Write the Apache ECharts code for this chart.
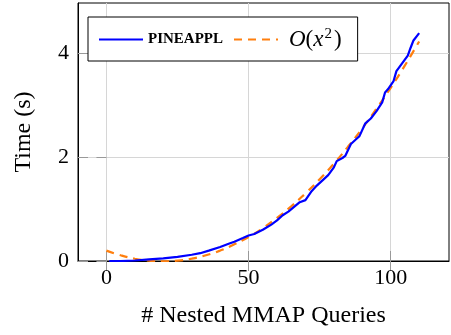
<!DOCTYPE html>
<html>
<head>
<meta charset="utf-8">
<script src="https://cdn.jsdelivr.net/npm/echarts@6/dist/echarts.min.js"></script>
<style>
  html, body { margin: 0; padding: 0; background: #fff; }
  #chart { width: 451px; height: 335px; }
</style>
</head>
<body>
<div id="chart"></div>
<script>
// measured run time of PINEAPPL per number of nested MMAP queries
const queryCounts = [1, 5, 10, 15, 20, 25, 30, 33, 36, 40, 43, 45, 48, 50, 52, 55, 58, 60, 62, 64, 66, 68, 70, 72, 74, 76, 78, 80, 81, 83, 84, 86, 88, 89, 91, 93, 95, 97, 98, 99, 101, 102, 104, 106, 107, 108, 110];
const pineapplTimes = [0.00, 0.00, 0.01, 0.03, 0.05, 0.08, 0.12, 0.15, 0.20, 0.27, 0.33, 0.37, 0.44, 0.49, 0.52, 0.60, 0.70, 0.78, 0.88, 0.95, 1.04, 1.13, 1.17, 1.33, 1.45, 1.55, 1.65, 1.80, 1.92, 1.98, 2.02, 2.25, 2.35, 2.40, 2.64, 2.74, 2.88, 3.05, 3.24, 3.30, 3.46, 3.65, 3.80, 3.95, 4.10, 4.24, 4.38];

// quadratic fit
const fitX = [0, 5, 10, 15, 20, 25, 30, 35, 40, 45, 50, 55, 60, 65, 70, 75, 80, 85, 90, 95, 100, 105, 110];
const fitY = [0.20, 0.11, 0.044, 0.005, -0.008, 0.006, 0.045, 0.11, 0.20, 0.32, 0.46, 0.63, 0.83, 1.05, 1.30, 1.57, 1.87, 2.20, 2.55, 2.93, 3.33, 3.76, 4.22];

const xTicks = [0, 50, 100];
const yTicks = [0, 2, 4];

const serif = "Liberation Serif";

const zip = (xs, ys) => xs.map((x, i) => [x, ys[i]]);

const chart = echarts.init(document.getElementById("chart"));

// limits of the plot box
const xMin = -10;
const xMax = 120.5;
const yMax = 4.96;

const option = {
  animation: false,
  textStyle: { fontFamily: serif, color: "#000" },
  grid: {
    left: 78,
    right: 2,
    top: 3,
    bottom: 74,
    outerBoundsMode: "none",
    show: true,
    borderColor: "#000",
    borderWidth: 1,
  },
  legend: {
    left: 88,
    top: 17,
    orient: "horizontal",
    padding: [10, 16, 10, 10],
    itemGap: 10,
    itemWidth: 44,
    itemHeight: 22,
    borderColor: "#000",
    borderWidth: 1,
    backgroundColor: "#fff",
    itemStyle: { opacity: 0 },
    data: ["PINEAPPL", "O(x2)"],
    formatter: (name) => {
      if (name === "PINEAPPL") return "{sc|PINEAPPL}";
      return "{lead|O}{n|(}{it|x}{sup|2}{n|)}";
    },
    textStyle: {
      fontFamily: serif,
      color: "#000",
      rich: {
        sc: { fontSize: 15, fontFamily: serif, fontWeight: "bold" },
        lead: { fontSize: 23, fontStyle: "italic", fontFamily: serif, padding: [0, 0, 0, 6] },
        it: { fontSize: 23, fontStyle: "italic", fontFamily: serif },
        n: { fontSize: 23, fontFamily: serif },
        sup: { fontSize: 15, fontFamily: serif, verticalAlign: "top", padding: [0, 2, 10, 1] },
      },
    },
  },
  xAxis: [
    {
      type: "value",
      min: xMin,
      max: xMax,
      name: "# Nested MMAP Queries",
      nameLocation: "middle",
      nameGap: 43,
      nameTextStyle: { fontSize: 24, fontFamily: serif, color: "#000" },
      axisLine: { show: true, onZero: false, lineStyle: { color: "#000", width: 1 } },
      axisTick: { show: true, inside: true, length: 10, customValues: xTicks, lineStyle: { color: "#999" } },
      axisLabel: { customValues: xTicks, fontSize: 22, color: "#000", margin: 6 },
      splitLine: { show: true, lineStyle: { color: "#d6d6d6", width: 1 } },
    },
    {
      type: "value",
      position: "top",
      min: xMin,
      max: xMax,
      axisLine: { show: false },
      axisTick: { show: true, inside: true, length: 10, customValues: xTicks, lineStyle: { color: "#999" } },
      axisLabel: { show: false },
      splitLine: { show: false },
    },
  ],
  yAxis: [
    {
      type: "value",
      min: 0,
      max: yMax,
      name: "Time (s)",
      nameLocation: "middle",
      nameGap: 42,
      nameTextStyle: { fontSize: 24, fontFamily: serif, color: "#000" },
      axisLine: { show: true, onZero: false, lineStyle: { color: "#000", width: 1 } },
      axisTick: { show: true, inside: true, length: 10, customValues: yTicks, lineStyle: { color: "#999" } },
      axisLabel: { customValues: yTicks, fontSize: 22, color: "#000", margin: 9 },
      splitLine: { show: true, lineStyle: { color: "#d6d6d6", width: 1 } },
    },
    {
      type: "value",
      position: "right",
      min: 0,
      max: yMax,
      axisLine: { show: false },
      axisTick: { show: true, inside: true, length: 10, customValues: yTicks, lineStyle: { color: "#999" } },
      axisLabel: { show: false },
      splitLine: { show: false },
    },
  ],
  series: [
    {
      name: "PINEAPPL",
      type: "line",
      data: zip(queryCounts, pineapplTimes),
      showSymbol: false,
      symbol: "none",
      color: "#0000ff",
      lineStyle: { color: "#0000ff", width: 2.2 },
      z: 3,
    },
    {
      name: "O(x2)",
      type: "line",
      data: zip(fitX, fitY),
      smooth: true,
      showSymbol: false,
      symbol: "none",
      color: "#ff7f0e",
      lineStyle: { color: "#ff7f0e", width: 2.2, type: [8, 6] },
      clip: true,
      z: 2,
    },
  ],
};

chart.setOption(option);
</script>
</body>
</html>
